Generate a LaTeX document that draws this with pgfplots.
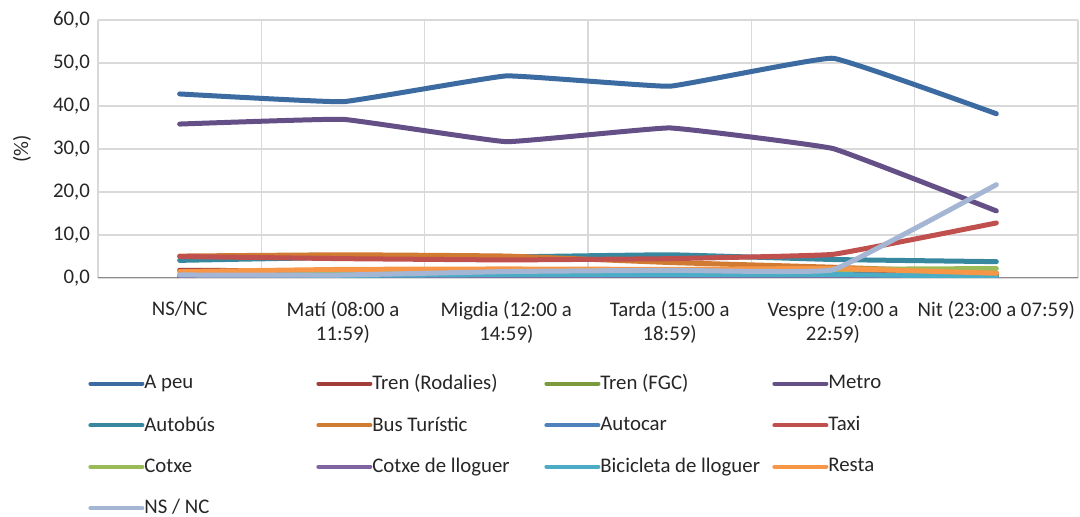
\documentclass[border=0pt]{standalone}
\usepackage{fontspec}
\setmainfont{Carlito}
\usepackage{pgfplots}
\pgfplotsset{compat=1.18}

\definecolor{cApeu}{HTML}{3B6BA0}
\definecolor{cRodalies}{HTML}{A23D3A}
\definecolor{cFGC}{HTML}{7B9A3E}
\definecolor{cMetro}{HTML}{654F87}
\definecolor{cAutobus}{HTML}{37889F}
\definecolor{cBusTur}{HTML}{D07A32}
\definecolor{cAutocar}{HTML}{4F81BD}
\definecolor{cTaxi}{HTML}{C0504D}
\definecolor{cCotxe}{HTML}{9BBB59}
\definecolor{cCotxeLl}{HTML}{8064A2}
\definecolor{cBici}{HTML}{4BACC6}
\definecolor{cResta}{HTML}{F79646}
\definecolor{cNSNC}{HTML}{A5B6D4}
\definecolor{gridgray}{HTML}{D9D9D9}

\newcommand{\lent}[1]{\hspace*{-2pt}\makebox[84pt][l]{#1}}

\begin{document}
\begin{tikzpicture}
\path[use as bounding box] (-49pt,-119.5pt) rectangle (491pt,139pt);
\begin{axis}[
  at={(0,0)}, anchor=south west,
  scale only axis,
  width=490pt, height=129pt,
  xmin=-0.5, xmax=5.5,
  ymin=0, ymax=60,
  xtick={0,1,2,3,4,5},
  xticklabels={NS/NC, Matí (08:00 a\\11:59), Migdia (12:00 a\\14:59),
               Tarda (15:00 a\\18:59), Vespre (19:00 a\\22:59), Nit (23:00 a 07:59)},
  xticklabel style={align=center, font=\fontsize{10.4}{12.2}\selectfont, yshift=-8pt, text=black!85},
  minor xtick={-0.5,0.5,...,5.5},
  xminorgrids=true,
  xmajorgrids=false,
  ytick={0,10,...,60},
  ymajorgrids=true,
  grid style={gridgray, line width=0.75pt},
  minor grid style={gridgray, line width=0.75pt},
  major tick length=0pt, minor tick length=0pt,
  axis line style={draw=none},
  yticklabel style={font=\fontsize{10.4}{12}\selectfont, text=black!85, xshift=-0.5pt},
  /pgf/number format/.cd, fixed, fixed zerofill, precision=1, use comma, assume math mode=true,
  /pgfplots/.cd,
  ylabel={(\%)},
  ylabel style={at={(axis description cs:-0.0776,0.5)}, anchor=center, font=\fontsize{10.4}{12}\selectfont, text=black!85},
  every axis plot/.append style={line width=2.5pt, line cap=round, line join=round, smooth, tension=0.15},
  legend image code/.code={\draw[#1, line width=2pt, line cap=round] (0pt,0pt) -- (26pt,0pt);},
  legend columns=4,
  legend cell align=left,
  legend style={at={(0,0)}, anchor=north west, xshift=-8pt, yshift=-44pt,
                draw=none, fill=none, font=\fontsize{10.4}{12}\selectfont, text=black!85,
                row sep=8pt, column sep=0pt,
                /tikz/every even column/.append style={column sep=0pt}},
]
\draw[black!45, line width=0.9pt] (axis cs:-0.5,0) -- (axis cs:5.5,0);
% A peu
\addplot[cApeu] coordinates {(0,42.8) (1,41.0) (2,47.0) (3,44.6) (4,51.1) (5,38.2)};
% Tren (Rodalies)
\addplot[cRodalies] coordinates {(0,1.8) (1,1.6) (2,1.4) (3,1.2) (4,1.0) (5,0.8)};
% Tren (FGC)
\addplot[cFGC] coordinates {(0,0.3) (1,0.4) (2,0.5) (3,0.5) (4,0.6) (5,0.5)};
% Metro
\addplot[cMetro] coordinates {(0,35.8) (1,36.9) (2,31.7) (3,34.9) (4,30.1) (5,15.6)};
% Autobús
\addplot[cAutobus] coordinates {(0,4.1) (1,4.8) (2,4.9) (3,5.4) (4,4.3) (5,3.8)};
% Bus Turístic
\addplot[cBusTur] coordinates {(0,5.1) (1,5.4) (2,5.1) (3,3.6) (4,2.5) (5,1.2)};
% Autocar
\addplot[cAutocar] coordinates {(0,0.3) (1,0.2) (2,0.2) (3,0.3) (4,0.2) (5,0.2)};
% Taxi
\addplot[cTaxi] coordinates {(0,5.0) (1,4.5) (2,4.2) (3,4.5) (4,5.5) (5,12.8)};
% Cotxe
\addplot[cCotxe] coordinates {(0,0.3) (1,1.0) (2,1.5) (3,1.7) (4,2.0) (5,2.2)};
% Cotxe de lloguer
\addplot[cCotxeLl] coordinates {(0,0.1) (1,0.1) (2,0.1) (3,0.2) (4,0.1) (5,0.1)};
% Bicicleta de lloguer
\addplot[cBici] coordinates {(0,0.8) (1,0.6) (2,0.8) (3,0.8) (4,0.8) (5,0.4)};
% Resta
\addplot[cResta] coordinates {(0,1.5) (1,2.0) (2,2.1) (3,2.0) (4,2.2) (5,1.1)};
% NS / NC
\addplot[cNSNC] coordinates {(0,0.7) (1,0.7) (2,1.5) (3,1.8) (4,1.9) (5,21.7)};
\legend{\lent{A peu}, \lent{Tren (Rodalies)}, \lent{Tren (FGC)}, \lent{Metro},
        \lent{Autobús}, \lent{Bus Turístic}, \lent{Autocar}, \lent{Taxi},
        \lent{Cotxe}, \lent{Cotxe de lloguer}, \lent{Bicicleta de lloguer}, \lent{Resta},
        \lent{NS / NC}}
\end{axis}
\end{tikzpicture}
\end{document}
